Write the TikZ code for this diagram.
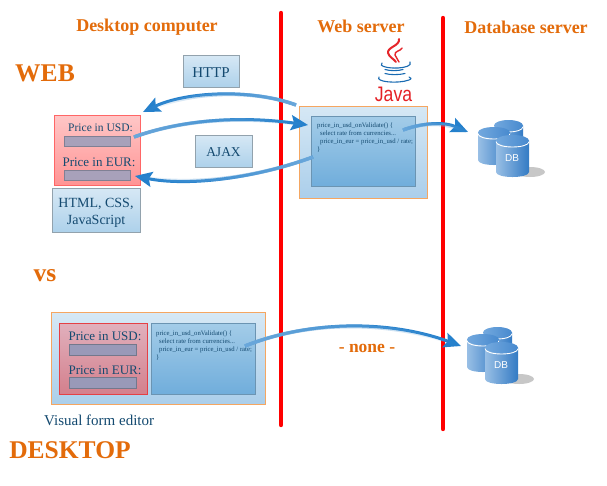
\documentclass[tikz,border=0pt]{standalone}
\usepackage{fontspec}
\setmainfont{Liberation Serif}
\newfontfamily\javafont{Liberation Sans}
\newfontfamily\dbfont{Liberation Sans}
\usetikzlibrary{arrows.meta,fadings,positioning}
\definecolor{hdr}{rgb}{0.89,0.42,0.04}
\definecolor{ink}{rgb}{0.08,0.29,0.44}
\definecolor{flowdark}{rgb}{0.14,0.50,0.80}
\definecolor{flowlight}{rgb}{0.42,0.66,0.86}
\definecolor{edgeorange}{rgb}{0.96,0.65,0.38}
\tikzset{
  heading/.style={text=hdr,font=\bfseries\fontsize{18}{20}\selectfont,inner sep=0pt},
  bigword/.style={text=hdr,font=\bfseries\fontsize{25.500}{28}\selectfont,inner sep=0pt},
  plainbox/.style={draw=black!35!ink!45,line width=0.8pt,top color={rgb,1:red,0.84;green,0.91;blue,0.96},bottom color={rgb,1:red,0.68;green,0.82;blue,0.92},text=ink,align=center,inner sep=0pt},
  outerbox/.style={draw=edgeorange,line width=1pt,top color={rgb,1:red,0.84;green,0.91;blue,0.96},bottom color={rgb,1:red,0.67;green,0.81;blue,0.92}},
  codebox/.style={draw={rgb,1:red,0.42;green,0.58;blue,0.70},line width=0.8pt,top color={rgb,1:red,0.64;green,0.80;blue,0.91},bottom color={rgb,1:red,0.44;green,0.68;blue,0.86}},
  webform/.style={draw={rgb,1:red,1;green,0.40;blue,0.40},line width=1pt,top color={rgb,1:red,1;green,0.78;blue,0.78},bottom color={rgb,1:red,1;green,0.58;blue,0.58}},
  deskform/.style={draw={rgb,1:red,0.90;green,0.25;blue,0.27},line width=1pt,top color={rgb,1:red,0.88;green,0.69;blue,0.74},bottom color={rgb,1:red,0.83;green,0.50;blue,0.55}},
  field/.style={draw={rgb,1:red,0.50;green,0.50;blue,0.58},line width=0.8pt,fill={rgb,1:red,0.66;green,0.63;blue,0.73}},
  deskfield/.style={draw={rgb,1:red,0.45;green,0.47;blue,0.55},line width=0.8pt,fill={rgb,1:red,0.60;green,0.60;blue,0.72}},
  codetext/.style={text=ink,align=left,anchor=north west,inner sep=0pt,font=\fontsize{6.7}{8}\selectfont},
  fieldlabel/.style={text=ink,inner sep=0pt},
  divider/.style={draw=red,line width=4.4pt,line cap=round},
  flowbase/.style={draw=flowdark,line width=3pt,-{Stealth[length=17pt,width=15pt,inset=3pt]}},
  flowfade/.style={draw=flowlight,line width=3.6pt},
  javared/.style={draw={rgb,1:red,0.90;green,0.15;blue,0.17},line cap=round},
  javablue/.style={draw={rgb,1:red,0.10;green,0.42;blue,0.70},line cap=round,line width=1.1pt},
}
\newcommand{\cylpart}[4]{%
  \shade[left color={rgb,1:red,0.60;green,0.75;blue,0.90},right color={rgb,1:red,0.20;green,0.48;blue,0.77}]
    (#1,#3) -- (#1,#4) .. controls (#1,#4+6.67) and (#2,#4+6.67) .. (#2,#4) -- (#2,#3) -- cycle;
  \draw[white,line width=0.9pt] (#1,#3+1) .. controls (#1,#3+8.33) and (#2,#3+8.33) .. (#2,#3+1);
  \shade[left color={rgb,1:red,0.45;green,0.66;blue,0.87},right color={rgb,1:red,0.28;green,0.54;blue,0.81}]
    ({(#1+#2)/2},#3) ellipse[x radius={(#2-#1)/2},y radius=5.5];
}
\newcommand{\dbstack}[3]{%
  \begin{scope}[shift={(#1,#2)}]
    \fill[black!22] (52,58) ellipse[x radius=15,y radius=5];
    \cylpart{16}{45}{11.5}{34}
    \cylpart{0}{32}{18.5}{46}
    \cylpart{18}{51}{26.5}{58}
    \node[text=white,font=\dbfont\fontsize{10}{12}\selectfont,inner sep=0pt] (#3) at (34,44) {DB};
  \end{scope}
}
\begin{document}
\begin{tikzpicture}[x=1pt,y=-1pt]
\useasboundingbox (0,0) rectangle (607,485);
\fill[white] (0,0) rectangle (607,485);

% headings
\node[heading] (hDesk) at (147,27) {Desktop computer};
\node[heading] (hWeb) at (361,26) {Web server};
\node[heading] (hDb) at (526,27) {Database server};
\node[bigword] (wWeb) at (45,73) {WEB};
\node[bigword] (wVs) at (45,276) {vs};
\node[bigword] (wDesk) at (70,450) {DESKTOP};

% web row boxes
\node[plainbox,minimum width=56pt,minimum height=32pt,font=\fontsize{15}{17}\selectfont] (http) at (211,71) {\rule{0pt}{12pt}HTTP};
\node[plainbox,minimum width=57pt,minimum height=32pt,font=\fontsize{13.500}{16}\selectfont] (ajax) at (223.5,151) {\rule{0pt}{12pt}AJAX};
\node[webform,minimum width=86pt,minimum height=70pt] (form) at (97,150) {};
\node[field,minimum width=66pt,minimum height=10pt,inner sep=0pt] (usdF) at (97,141) {};
\node[field,minimum width=66pt,minimum height=10pt,inner sep=0pt] (eurF) at (97,175) {};
\node[fieldlabel,font=\fontsize{11.5}{13}\selectfont] (usdL) at (100.5,128) {Price in USD:};
\node[fieldlabel,font=\fontsize{13}{15}\selectfont] (eurL) at (99,162) {Price in EUR:};
\node[plainbox,minimum width=88pt,minimum height=44pt,font=\fontsize{14}{17}\selectfont] (tech) at (96,210) {\rule{0pt}{15pt}HTML, CSS,\\JavaScript};

% web server
\node[outerbox,minimum width=128pt,minimum height=92pt] (srv) at (363,152) {};
\node[codebox,minimum width=104pt,minimum height=70pt] (srvCode) at (363,151) {};
\node[codetext] (srvTxt) at (317,123) {price\_in\_usd\_onValidate() \{\\\hspace*{3pt}select rate from currencies...\\\hspace*{3pt}price\_in\_eur = price\_in\_usd / rate;\\\}};

% java logo
\draw[javared,line width=2pt] (399,39) .. controls (400,46) and (387,47) .. (388,53) .. controls (389,57) and (394,59) .. (396,62);
\draw[javared,line width=1.4pt] (402,48) .. controls (401,51) and (394,51) .. (395,55) .. controls (396,58) and (398,59) .. (399,62);
\draw[javablue] (382,63) .. controls (378,66) and (388,68.500) .. (398,68) .. controls (405,67.500) and (412,66) .. (410,62);
\draw[javablue] (385,69.500) .. controls (390,71) and (398,71) .. (403,69.500);
\draw[javablue] (385,73.500) .. controls (390,75) and (399,75) .. (405,73.500);
\draw[javablue] (379,77) .. controls (375,82) and (398,84) .. (409,80) .. controls (412,79) and (411,77.500) .. (409,77);
\node[inner sep=0pt,text={rgb,1:red,0.90;green,0.13;blue,0.15},font=\javafont\fontsize{21}{23}\selectfont,xscale=0.84] (java) at (393.500,94) {Java};

% desktop row
\node[outerbox,minimum width=214pt,minimum height=92pt] (desk) at (158,358) {};
\node[deskform,minimum width=88pt,minimum height=71pt] (dForm) at (103,358.500) {};
\node[codebox,minimum width=104pt,minimum height=71pt] (dCode) at (203,358.500) {};
\node[deskfield,minimum width=67pt,minimum height=11pt,inner sep=0pt] (dUsdF) at (102.500,350) {};
\node[deskfield,minimum width=67pt,minimum height=11pt,inner sep=0pt] (dEurF) at (102.500,383) {};
\node[fieldlabel,font=\fontsize{13}{15}\selectfont] (dUsdL) at (105,336.500) {Price in USD:};
\node[fieldlabel,font=\fontsize{13}{15}\selectfont] (dEurL) at (105,370.500) {Price in EUR:};
\node[codetext] (dTxt) at (156,331) {price\_in\_usd\_onValidate() \{\\\hspace*{3pt}select rate from currencies...\\\hspace*{3pt}price\_in\_eur = price\_in\_usd / rate;\\\}};
\node[text=ink,anchor=west,inner sep=0pt,font=\fontsize{15}{17}\selectfont] (editor) at (44,420) {Visual form editor};
\node[text=hdr,inner sep=0pt,font=\bfseries\fontsize{17.500}{19}\selectfont] (none) at (367,348) {- none -};

% databases
\dbstack{478}{114}{dbA}
\dbstack{467}{321}{dbB}

% dividers
\coordinate (d1a) at (281,13);
\coordinate (d1b) at (281,425);
\coordinate (d2a) at (443,18);
\coordinate (d2b) at (443,429);
\draw[divider] (d1a) -- (d1b);
\draw[divider] (d2a) -- (d2b);

% flows
\coordinate (a1s) at (296,105);
\coordinate (a1e) at (143,112);
\coordinate (a2s) at (134,137);
\coordinate (a2e) at (308,125);
\coordinate (a3s) at (313,157);
\coordinate (a3e) at (135,176);
\coordinate (a4s) at (403,130);
\coordinate (a4e) at (468,132);
\coordinate (a5s) at (245,346);
\coordinate (a5e) at (461,346);
\draw[flowbase] (a1s) .. controls (250,88) and (185,92) .. (a1e);
\draw[flowbase] (a2s) .. controls (190,117) and (250,117) .. (a2e);
\draw[flowbase] (a3s) .. controls (250,180) and (185,186) .. (a3e);
\draw[flowbase] (a4s) .. controls (425,122) and (445,122) .. (a4e);
\draw[flowbase] (a5s) .. controls (310,320) and (390,320) .. (a5e);
\draw[flowfade,path fading=west] (a1s) .. controls (250,88) and (185,92) .. (a1e);
\draw[flowfade,path fading=east] (a2s) .. controls (190,117) and (250,117) .. (a2e);
\draw[flowfade,path fading=west] (a3s) .. controls (250,180) and (185,186) .. (a3e);
\draw[flowfade,path fading=east] (a4s) .. controls (425,122) and (445,122) .. (a4e);
\draw[flowfade,path fading=east] (a5s) .. controls (310,320) and (390,320) .. (a5e);
\end{tikzpicture}
\end{document}
